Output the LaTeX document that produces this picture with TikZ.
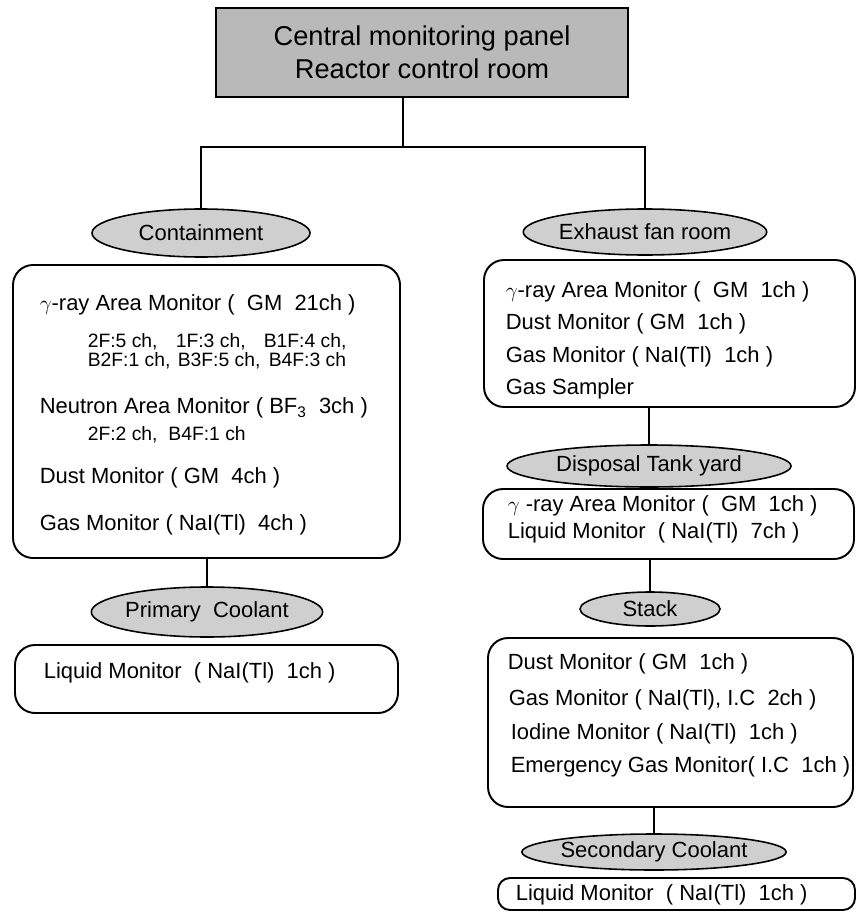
\documentclass[tikz,border=0pt]{standalone}
\usepackage{fontspec}
\setmainfont{Liberation Sans}
\usepackage{tikz}
\usetikzlibrary{shapes.geometric}

\begin{document}
\begin{tikzpicture}[x=0.2mm,y=-0.2mm,line width=0.9pt,
                    font=\fontsize{12.5}{15}\selectfont]
  \tikzstyle{panel}=[draw,line width=1.2pt,fill=gray!55,align=center,
                     minimum width=82.4mm,minimum height=17.8mm,
                     font=\fontsize{15.5}{18.5}\selectfont]
  \tikzstyle{room}=[ellipse,draw,fill=gray!38,inner sep=0pt]
  \tikzstyle{group}=[draw,rounded corners=4mm,line width=1.1pt,inner sep=0pt]
  \tikzstyle{item}=[anchor=west,inner sep=0pt]
  \tikzstyle{sub}=[item,font=\fontsize{11}{13}\selectfont]

  \useasboundingbox (0,0) rectangle (857,912);

  \node[panel] (A) at (422,52.5) {Central monitoring panel\\Reactor control room};
  \coordinate (N) at (403,147);

  % left branch
  \node[room, minimum width=43.6mm, minimum height=9.6mm] (B) at (201,233) {Containment};
  \node[group, minimum width=77.4mm, minimum height=58.6mm] (C) at (206.5,411.5) {};
  \node[item] (C1) at (39,305) {$\gamma$-ray Area Monitor (\ \ GM\ \ 21ch )};
  \node[sub]  (C2) at (87,342) {\makebox[17.6mm][l]{2F:5 ch,}\makebox[17.6mm][l]{1F:3 ch,}B1F:4 ch,};
  \node[sub]  (C3) at (87,361) {\makebox[18mm][l]{B2F:1 ch,}\makebox[18.2mm][l]{B3F:5 ch,}B4F:3 ch};
  \node[item] (C4) at (39,408) {Neutron Area Monitor ( BF\textsubscript{3}\ \ 3ch )};
  \node[sub]  (C5) at (87,435) {2F:2 ch,\ \ B4F:1 ch};
  \node[item] (C6) at (39,478) {Dust Monitor ( GM\ \ 4ch )};
  \node[item] (C7) at (39,525) {Gas Monitor ( NaI(Tl)\ \ 4ch )};
  \node[room, minimum width=44.6mm, minimum height=10mm] (D) at (207,612) {Primary\ \ Coolant};
  \node[group, minimum width=76.6mm, minimum height=13.6mm] (E) at (206.5,679) {};
  \node[item] (E1) at (43,673) {Liquid Monitor\ \ ( NaI(Tl)\ \ 1ch )};

  % right branch
  \node[room, minimum width=44.2mm, minimum height=9.2mm] (F) at (645,232) {Exhaust fan room};
  \node[group, minimum width=74.2mm, minimum height=29.4mm] (G) at (669.5,333.5) {};
  \node[item] (G1) at (505,292) {$\gamma$-ray Area Monitor (\ \ GM\ \ 1ch )};
  \node[item] (G2) at (505,324) {Dust Monitor ( GM\ \ 1ch )};
  \node[item] (G3) at (505,357) {Gas Monitor ( NaI(Tl)\ \ 1ch )};
  \node[item] (G4) at (505,389) {Gas Sampler};
  \node[room, minimum width=56.8mm, minimum height=8.4mm] (H) at (649,466) {Disposal Tank yard};
  \node[group, minimum width=74.2mm, minimum height=14mm] (I) at (668.5,524) {};
  \node[item] (I1) at (507,506) {$\gamma$ -ray Area Monitor (\ \ GM\ \ 1ch )};
  \node[item] (I2) at (507,533) {Liquid Monitor\ \ ( NaI(Tl)\ \ 7ch )};
  \node[room, minimum width=28mm, minimum height=6.8mm] (J) at (650,609) {Stack};
  \node[group, minimum width=73mm, minimum height=33.8mm] (K) at (670.5,722.5) {};
  \node[item] (K1) at (507,664) {Dust Monitor ( GM\ \ 1ch )};
  \node[item] (K2) at (508,700) {Gas Monitor ( NaI(Tl), I.C\ \ 2ch )};
  \node[item] (K3) at (510,734) {Iodine Monitor ( NaI(Tl)\ \ 1ch )};
  \node[item] (K4) at (510,767) {Emergency Gas Monitor( I.C\ \ 1ch )};
  \node[room, minimum width=51.2mm, minimum height=7.2mm] (L) at (654,852) {Secondary Coolant};
  \node[group, rounded corners=2.4mm, minimum width=71.4mm, minimum height=6.4mm] (M) at (676.5,894) {};
  \node[item] (M1) at (515,895) {Liquid Monitor\ \ ( NaI(Tl)\ \ 1ch )};

  \draw (N |- A.south) -- (N);
  \draw (B) |- (N) -| (F);
  \draw (D.north |- C.south) -- (D);
  \draw (H.north |- G.south) -- (H);
  \draw (J.north |- I.south) -- (J);
  \draw (L.north |- K.south) -- (L);
\end{tikzpicture}
\end{document}
